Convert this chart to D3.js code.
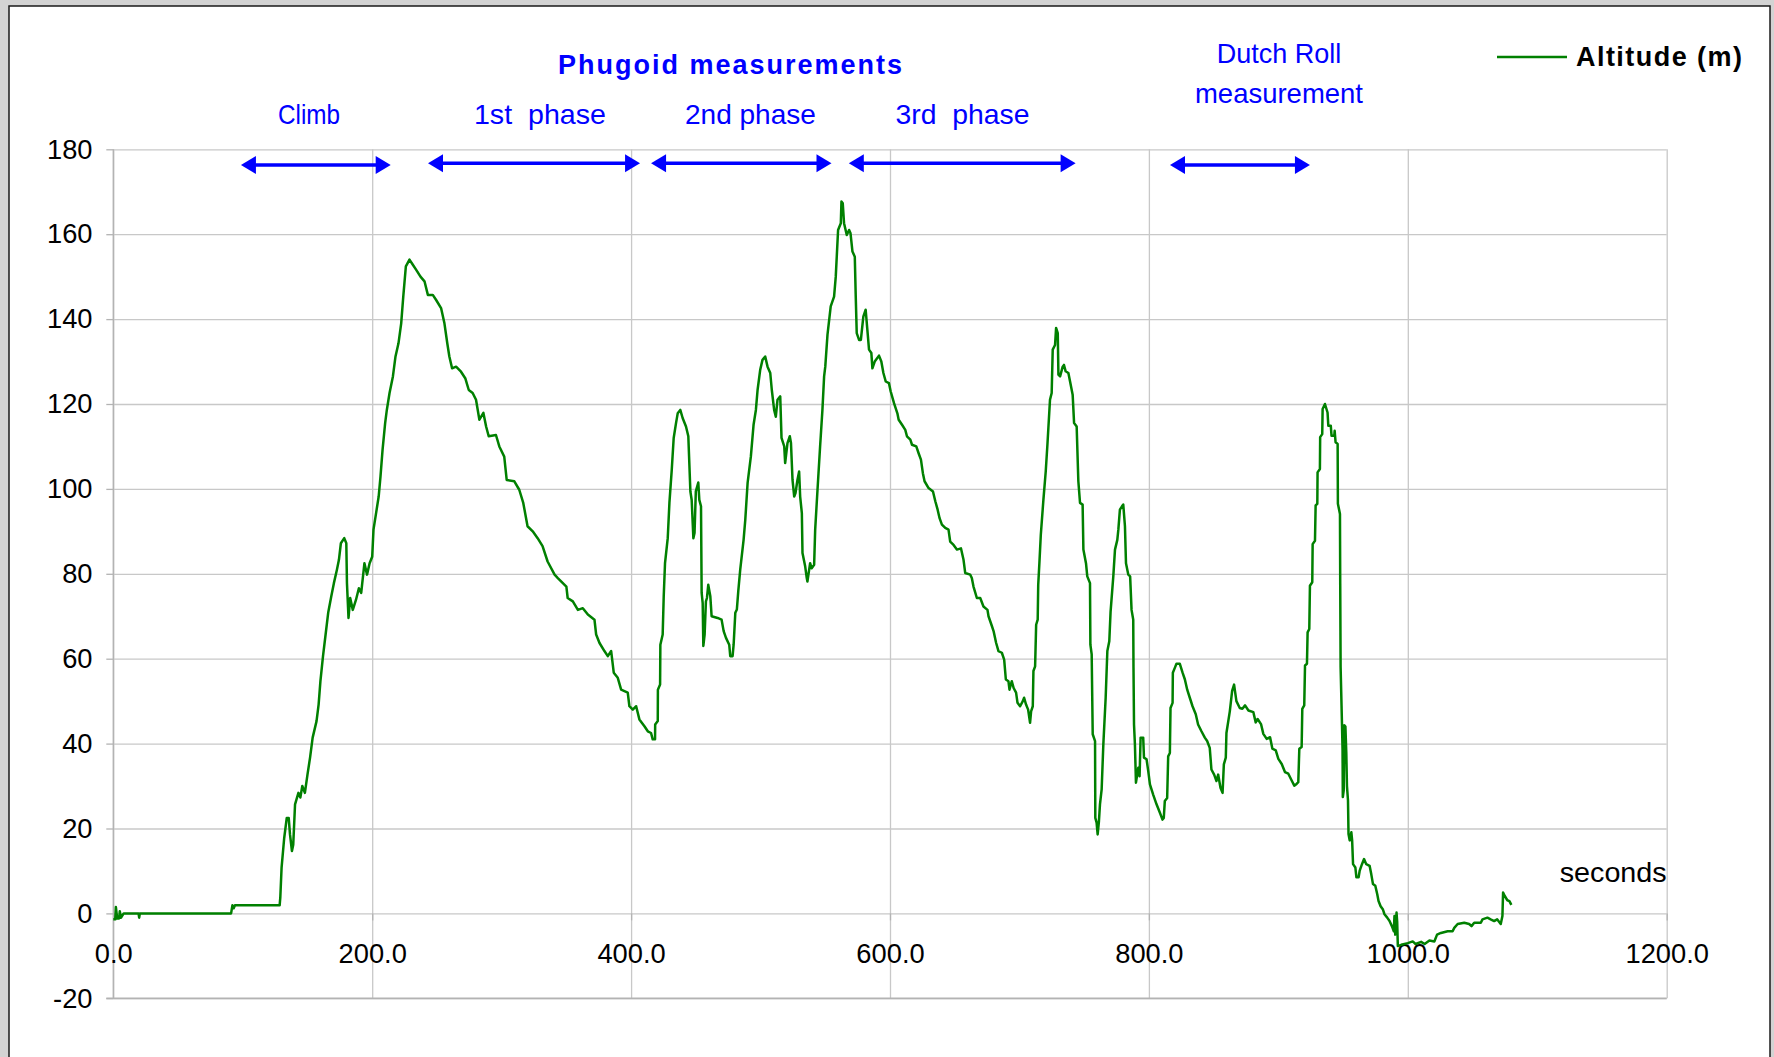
<!DOCTYPE html>
<html>
<head>
<meta charset="utf-8">
<script src="https://cdn.jsdelivr.net/npm/d3@7"></script>
<style>
  html, body { margin: 0; padding: 0; background: #d3d3d3; }
  svg { display: block; }
  text { font-family: "Liberation Sans", Arial, sans-serif; }
</style>
</head>
<body>
<svg id="chart" width="1774" height="1057"></svg>
<script>
// ---------- data ----------
const seconds = [0,1.5,2,3,4.5,5,6,8,10,19.5,20,20.5,91,92,93,94,128.5,129,130,132,134,135.5,136.5,138,139,140.4,143,144.5,146,148,150,152,154,157,158.6,160,162,164,166,168.4,170.4,172.7,174.3,175.8,178.4,180,180.5,181.7,183,185,187.5,189.7,191.5,194,196,198,200,201,203,205,206.4,208,210,211.3,213.4,216,218,220.3,222.4,224,226,228.8,231.4,234,237.3,240.4,243,246.8,249.4,253.2,255.8,258,259.6,261.7,264.8,268.6,272,274.6,277.6,280.2,282.8,285.9,288,290,295.6,298.2,302,303.9,309.8,313.6,316.7,320,324,327.8,331.6,335.5,340.9,343.4,350,351,355,358.9,362.7,366.6,371.7,373,375.6,379.4,382,384.6,386.6,389.7,392.3,397.4,398.7,401.3,403.9,406.4,410.3,412.9,415.4,416.7,418.5,418.6,420.6,420.7,422.4,422.6,424.4,425.2,426.2,428.3,429.6,431.4,432.9,434.7,436,438,439.8,442.4,444.2,445.8,446.8,448.1,449,450,451.9,452.7,454,454.5,455.3,455.8,456.8,457.8,458.6,459.6,461.2,462.2,466.8,469.9,471.5,473.3,475.8,476.6,478.4,479.2,480.5,481.7,482.8,484.3,486.9,488.2,490,492.5,494.6,496.4,497.7,499.7,501.5,503.6,505.4,507.5,508.7,510.5,511.8,513.1,515.2,516.2,518.3,519,520.8,522.6,523.5,524.7,526,527,528.5,529.8,530.6,531.9,532.4,534.5,535.7,536.2,538.3,539.5,541.4,542.2,544,546,547.8,549.1,550,551.7,554.2,556.8,558.1,559.9,562,562.5,563.5,564.5,566.6,568.4,569.5,571,572.8,573.5,574.3,576.1,577.5,579.4,581.2,582.5,583.8,585.6,586.4,588.2,591.5,593.3,594.9,596.7,599.2,600.5,603.1,605.7,606.7,609.3,611.8,613.1,615.7,617,620.3,622.1,623.9,625.4,626.7,629.8,633.2,635,636.8,638.3,640.1,642.7,645.2,646.5,649.1,651.7,654.8,656.8,658.1,662,663.2,664.5,667.1,669.7,672.2,675.3,676.1,678.7,680,682,683.8,686.4,688.2,689.5,691.5,692.3,694.1,695.5,697.4,698.5,700.5,702.6,703.6,705.1,706.7,708.2,709,710.3,710.8,712.1,712.9,714.1,714.5,715.4,716.5,718.5,720.3,721.6,723.6,724.9,725.7,727.5,728.3,729.6,730.1,731.4,733.4,734.4,735.7,737.8,739.1,741.1,742.2,744.2,745.5,746.8,748.8,749.4,751.4,752.4,754.5,754.8,755.8,756.6,758.4,758.6,759.6,760.4,761.4,762.2,763.5,764.8,766.6,767.9,769.4,770.4,772.5,773.8,775.6,776.4,777.6,779.2,780.2,781.5,782.3,784.1,785.5,786.6,787.9,788.1,788.5,789.2,790,791.8,792.8,793.6,795.6,796.2,798.2,799.5,800.8,803.3,805.9,808.5,810.5,811.5,812.3,814.1,814.9,816.2,816.7,818.3,818.5,820.1,821.3,823.9,826,827.8,829.6,831.6,833.7,836.2,838,840.6,843.2,845,847,848.3,850.4,852.2,853.5,855.3,856.9,857.9,859.4,859.9,862.5,864.3,865.8,867.6,870.2,872.2,874.3,876.9,880.7,882.5,884,886.6,888.4,891,893.6,895.4,898,900,902.6,905.1,907.7,910.3,912.3,914.1,915.4,916.2,918,918.5,920,920.6,922.1,922.6,923.9,924.4,926.2,926.5,928.3,928.8,930.1,930.3,932.1,932.3,933.9,934.2,936,938,938.6,940.5,941.1,943.2,943.5,944.2,945.8,946,947.6,947.8,948.1,949.2,949.6,949.8,950.5,951,951.8,952.5,953,953.8,954.2,955.1,956.4,957,957.7,959.5,960.3,962,962.8,964.6,966.2,967.9,970.5,971.8,973.1,974.9,976.4,977.4,979,980.8,982,984.1,985.9,987.7,989.2,989.7,990.3,991.3,991.8,992.3,994.9,1000,1003.8,1006,1010.3,1013,1016.7,1020.5,1022.6,1025.6,1030.8,1034.6,1035.9,1038.5,1043.6,1047.4,1049.2,1051.3,1056.4,1057.7,1061.5,1064,1066.7,1069,1071.8,1073.1,1073.6,1074.9,1076.9,1078.5,1080];
const altitude = [-1.4,-1.4,1.5,-1.2,-1.2,0.5,-1,0,0,0,-1,0,0,1.9,1.2,1.9,1.9,3.7,10.8,17.7,22.5,22.5,18.6,14.7,16.2,25.7,28.4,27.3,30,28.4,32.7,36.7,41.4,45.3,49.2,54.7,60.6,65.7,70.8,74.7,77.8,80.9,83.3,87.2,88.4,87.2,77.8,69.6,74.3,71.5,73.9,76.6,75.5,82.5,79.8,82.5,84,90.4,94.3,98.2,102.9,109.2,115.5,118.6,122.6,126.5,131.2,134.3,139,145.3,152.4,154,152.8,151.6,150,148.9,145.7,145.7,144.5,142.6,139,134.3,131.2,128.4,128.8,127.6,126,123.3,122.6,121,116.3,117.9,114.7,112.4,112.7,110,107.6,102.1,101.8,99.8,96.7,91.2,90,88.4,86.5,82.9,79.8,79,77,74.3,73.5,71.5,71.9,70.4,69.2,65.7,63.7,61.8,60.6,61.8,56.7,55.5,52.7,52,48.8,48,48.8,45.7,44.1,42.9,42.5,41,41,44.5,45.3,52.7,53.9,63.3,65.7,74.7,82.5,88.4,96.7,104.5,112,115.5,117.8,118.6,116.7,114.7,112.4,99.4,97.4,88.4,89.6,99.4,101.5,97.4,95.9,75.5,73.1,63,65.7,73.5,74.3,77.4,74.7,70,69.6,69.2,66.5,64.9,63.3,60.6,60.6,63.3,70.8,71.6,75.9,81,88,92.7,101.4,107.6,115.1,118.6,123.3,128,130.4,131.2,128.8,127.3,123.3,118.6,117,121,121.8,112,110,106.1,110.8,112.4,110.8,102.1,98.2,99,102.1,104.1,98.2,94.3,84.9,81.7,79,78.2,82.5,81.3,82.1,90.4,99.8,110,118.6,126.5,128.8,136.3,143,145.3,150,161,162.6,167.7,167.3,162.6,159.8,161,160.2,155.9,154.7,145.7,136.7,135.1,135.1,140.6,142.2,137.5,132.8,132,128.4,130,131.4,130,127.3,125.3,124.9,123,120.2,117.8,116.3,115.1,113.9,112.4,111.6,110.4,110,108.4,106.9,103.7,101.8,100.2,99.4,97.1,95.1,93.1,91.6,90.8,90.4,87.6,86.8,85.7,86,83.3,80.2,79.8,79,77,74.3,74.3,72.3,71.5,70,67.7,66.5,63.7,61.8,61.4,59.8,55.1,54.7,52.7,54.7,53.1,52,49.6,48.8,50,50.8,49.2,48,44.9,47.6,48.8,57.1,58.2,68,69.2,77.4,82.5,89.2,97.4,104.1,110.4,121,122.6,132.8,133.9,137.9,136.7,126.9,126.5,128.8,129.2,127.7,127.3,125.3,122.2,115.5,114.7,101.8,96.7,96.3,85.7,82.5,79.4,77.8,63.3,61,42.2,40.6,22.5,21.4,18.6,21.7,25.7,29.2,39.8,50.8,61.8,64.1,71.1,79.4,85.7,88,90.4,95.1,95.9,96.3,91.2,82.5,79.8,79.4,71.5,69.2,57.9,44.5,39.8,30.8,34.3,32.3,41.4,41.4,36.7,36.3,33.5,30.4,28,25.7,23.7,22.1,22.5,26.5,27.2,37,37.8,48.4,49.6,56.7,57.9,58.8,58.8,56.7,55.1,52.7,50.8,48.8,46.9,44.5,42.9,41.4,40.6,39,33.9,32.7,31.2,32.7,29.6,28.4,35.1,36.7,42.5,47.6,52.4,53.9,50,48.4,48.2,49,47.8,47.4,45,45.8,44.6,42.3,41.1,41.5,38.8,38.4,36.4,35.2,33.3,32.9,31.3,30.1,30.5,30.9,38.8,39.2,48.2,49,58.4,58.8,66.2,67,77.2,78,87,87.8,96.1,96.5,103.9,104.7,112.2,112.9,118.8,120,118,114.9,114.9,112.5,112.5,113.7,111,110.6,96.5,94.1,77.6,58,44,38.4,27.4,29,44.3,44,37.7,30,26.6,18.7,17.2,19.1,17.2,11.6,10.8,8.5,8.5,10,11.6,12.8,11.6,11.2,9.2,6.9,6.5,4.5,2.9,1.7,0.9,-0.2,-1,-1.8,-3,-4.2,-0.6,-5,0.2,-2,-7.7,-7.4,-7,-6.6,-7.2,-6.7,-7.2,-6.4,-6.6,-5,-4.6,-4.2,-4.2,-3.4,-2.5,-2.2,-2.5,-3,-2.2,-2.2,-1.4,-1,-1.4,-1.8,-1.4,-2.5,-0.6,4.9,4.1,3.1,2.9,2];

const xTicks = [0, 200, 400, 600, 800, 1000, 1200];
const yTicks = [-20, 0, 20, 40, 60, 80, 100, 120, 140, 160, 180];

// phase annotations (seconds / metres)
const phaseNames   = ["Climb", "1st  phase", "2nd phase", "3rd  phase"];
const phaseCenters = [151.2, 329.6, 492.2, 656.0];
const arrowStart   = [98.6, 243.1, 415.4, 568.2, 816.3];
const arrowEnd     = [214.3, 406.9, 554.8, 743.4, 924.4];
const arrowAlt     = [176.3, 176.7, 176.7, 176.7, 176.3];
const groupTitle   = "Phugoid measurements";
const groupCenter  = 476.4;
const dutchLines   = ["Dutch Roll", "measurement"];
const dutchCenter  = 900.5;
const seriesName   = "Altitude (m)";
const xAxisTitle   = "seconds";

// ---------- drawing ----------
const svg = d3.select("#chart");
const blue = "#0000ff", green = "#008000";

svg.append("rect").attr("x", 9).attr("y", 6).attr("width", 1761).attr("height", 1100)
  .attr("fill", "#ffffff").attr("stroke", "#1a1a1a").attr("stroke-width", 1.5);

const x = d3.scaleLinear().domain([0, 1200]).range([113.3, 1666.7]);
const y = d3.scaleLinear().domain([-20, 180]).range([998.3, 149.3]);
const L = x.range()[0], R = x.range()[1], T = y.range()[1], B = y.range()[0];

// gridlines
svg.append("g").attr("transform", `translate(${L},0)`)
  .call(d3.axisLeft(y).tickValues(yTicks).tickSize(-(R - L)).tickFormat(""))
  .call(g => g.select(".domain").remove())
  .call(g => g.selectAll("line").attr("stroke", "#c8c8c8").attr("stroke-width", 1.3));
svg.append("g").attr("transform", `translate(0,${B})`)
  .call(d3.axisBottom(x).tickValues(xTicks).tickSize(-(B - T)).tickFormat(""))
  .call(g => g.select(".domain").remove())
  .call(g => g.selectAll("line").attr("stroke", "#c8c8c8").attr("stroke-width", 1.3));

// frame lines (left axis and bottom)
svg.append("line").attr("x1", L).attr("x2", L).attr("y1", T).attr("y2", B)
  .attr("stroke", "#b3b3b3").attr("stroke-width", 1.4);
svg.append("line").attr("x1", L - 7).attr("x2", R).attr("y1", B).attr("y2", B)
  .attr("stroke", "#b3b3b3").attr("stroke-width", 1.4);

const fontFam = '"Liberation Sans", Arial, sans-serif';

// y axis with labels (plain hyphen minus as in the reference)
svg.append("g").attr("transform", `translate(${L},0)`)
  .call(d3.axisLeft(y).tickValues(yTicks).tickSize(7).tickPadding(13.8).tickFormat(d => String(d)))
  .call(g => g.select(".domain").remove())
  .call(g => g.selectAll("line").attr("stroke", "#b3b3b3").attr("stroke-width", 1.3))
  .call(g => g.selectAll("text").attr("font-size", 27.3).attr("fill", "#000").attr("font-family", fontFam));

// x axis at y = 0
svg.append("g").attr("transform", `translate(0,${y(0)})`)
  .call(d3.axisBottom(x).tickValues(xTicks).tickSize(7).tickPadding(22.9).tickFormat(d => d.toFixed(1)))
  .call(g => g.select(".domain").remove())
  .call(g => g.selectAll("line").attr("stroke", "#b3b3b3").attr("stroke-width", 1.3))
  .call(g => g.selectAll("text").attr("font-size", 27.3).attr("fill", "#000").attr("font-family", fontFam));

// data line
const pts = seconds.map((s, i) => [s, altitude[i]]);
svg.append("path").datum(pts)
  .attr("fill", "none").attr("stroke", green).attr("stroke-width", 2.5)
  .attr("stroke-linejoin", "round")
  .attr("d", d3.line().x(d => x(d[0])).y(d => y(d[1])));

// x axis title
svg.append("text").attr("x", R).attr("y", 882).attr("text-anchor", "end")
  .attr("font-size", 28).attr("textLength", 107).attr("lengthAdjust", "spacingAndGlyphs")
  .text(xAxisTitle);

// annotation arrows
const ah = 15, aw = 9;
arrowStart.forEach((s, i) => {
  const x1 = x(s), x2 = x(arrowEnd[i]), yy = y(arrowAlt[i]);
  const g = svg.append("g").attr("fill", blue).attr("stroke", "none");
  g.append("line").attr("x1", x1 + ah - 2).attr("x2", x2 - ah + 2).attr("y1", yy).attr("y2", yy)
    .attr("stroke", blue).attr("stroke-width", 3.6);
  g.append("path").attr("d", `M${x1},${yy} L${x1 + ah},${yy - aw} L${x1 + ah},${yy + aw} Z`);
  g.append("path").attr("d", `M${x2},${yy} L${x2 - ah},${yy - aw} L${x2 - ah},${yy + aw} Z`);
});

// phase labels
const phaseWidths = [62, 132, 131, 134];
phaseNames.forEach((n, i) => {
  svg.append("text").attr("x", x(phaseCenters[i])).attr("y", 124)
    .attr("text-anchor", "middle").attr("fill", blue).attr("font-size", 28)
    .attr("textLength", phaseWidths[i]).attr("lengthAdjust", "spacingAndGlyphs")
    .style("white-space", "pre").text(n);
});

svg.append("text").attr("x", x(groupCenter)).attr("y", 74)
  .attr("text-anchor", "middle").attr("fill", blue).attr("font-size", 27)
  .attr("font-weight", "bold").attr("textLength", 344).attr("lengthAdjust", "spacing")
  .text(groupTitle);

const dutchY = [63.3, 102.7], dutchW = [124.6, 168];
dutchLines.forEach((t, i) => {
  svg.append("text").attr("x", x(dutchCenter)).attr("y", dutchY[i])
    .attr("text-anchor", "middle").attr("fill", blue).attr("font-size", 28)
    .attr("textLength", dutchW[i]).attr("lengthAdjust", "spacingAndGlyphs").text(t);
});

// legend
svg.append("line").attr("x1", 1497).attr("x2", 1567).attr("y1", 57).attr("y2", 57)
  .attr("stroke", green).attr("stroke-width", 2.6);
svg.append("text").attr("x", 1576).attr("y", 66).attr("font-size", 27)
  .attr("font-weight", "bold").attr("fill", "#000")
  .attr("textLength", 166).attr("lengthAdjust", "spacing").text(seriesName);
</script>
</body>
</html>
